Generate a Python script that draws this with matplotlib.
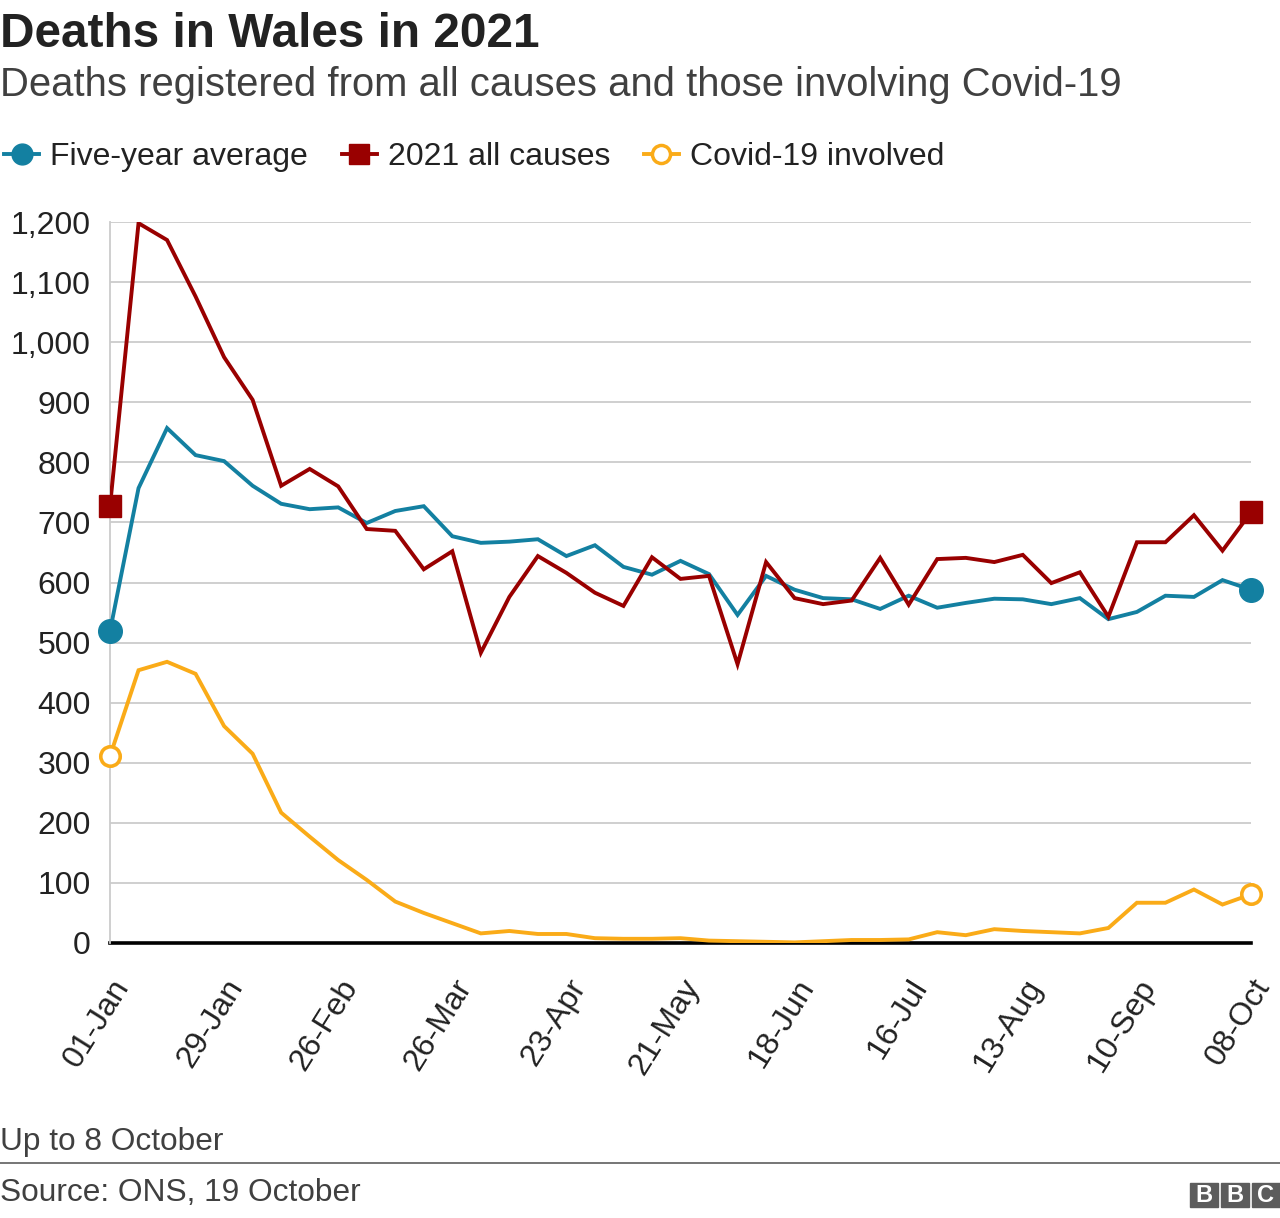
import matplotlib
matplotlib.use("Agg")
import matplotlib.pyplot as plt
import matplotlib.dates as mdates
from matplotlib.lines import Line2D
from matplotlib.patches import Rectangle
import matplotlib.ticker as mticker
import pandas as pd

plt.rcParams['font.family'] = ['Liberation Sans', 'DejaVu Sans']

# ---- data ----
week_start = "2021-01-01"
n_weeks = 41
dates = pd.date_range(week_start, periods=n_weeks, freq="7D")

five_year_avg = [519, 757, 857, 812, 802, 761, 731, 722, 725, 699, 719, 727, 677,
                 666, 668, 672, 644, 662, 626, 613, 636, 614, 546, 611, 588, 574,
                 572, 556, 578, 558, 566, 573, 572, 564, 574, 539, 551, 578, 576,
                 604, 588]
all_causes_2021 = [727, 1198, 1170, 1076, 975, 904, 761, 789, 760, 689, 686, 622,
                   652, 483, 576, 644, 616, 583, 561, 642, 606, 611, 464, 634, 574,
                   564, 570, 641, 563, 639, 641, 634, 646, 599, 617, 543, 667, 667,
                   712, 653, 717]
covid_involved = [311, 454, 468, 448, 361, 315, 217, 177, 138, 105, 69, 50, 33, 16,
                  20, 15, 15, 8, 7, 7, 8, 4, 3, 2, 1, 3, 5, 5, 6, 18, 13, 23, 20,
                  18, 16, 25, 67, 67, 89, 64, 81]

series_names = ["Five-year average", "2021 all causes", "Covid-19 involved"]
y_ticks = [0, 100, 200, 300, 400, 500, 600, 700, 800, 900, 1000, 1100, 1200]

title = "Deaths in Wales in 2021"
subtitle = "Deaths registered from all causes and those involving Covid-19"
note = "Up to 8 October"
source = "Source: ONS, 19 October"

TEAL = "#1380A1"
RED = "#990000"
YEL = "#FAAB18"
GRID = "#cbcbcb"
DARK = "#222222"
GREY = "#404040"

W, H = 1280, 1218
fig = plt.figure(figsize=(W / 100, H / 100), dpi=100)

def fx(px):
    return px / W

def fy(py):
    return 1 - py / H

ax = fig.add_axes([fx(110), fy(943), fx(1251) - fx(110), fy(222) - fy(943)])

lw = 2.8
ax.plot(dates, five_year_avg, color=TEAL, lw=lw, zorder=3, solid_joinstyle='miter')
ax.plot(dates, all_causes_2021, color=RED, lw=lw, zorder=4, solid_joinstyle='miter')
ax.plot(dates, covid_involved, color=YEL, lw=lw, zorder=3, solid_joinstyle='miter')

# end markers
ends = [dates[0], dates[-1]]
ax.plot(ends, [five_year_avg[0], five_year_avg[-1]], ls='none', marker='o',
        ms=17, color=TEAL, zorder=5, clip_on=False)
ax.plot(ends, [all_causes_2021[0], all_causes_2021[-1]], ls='none', marker='s',
        ms=16, color=RED, zorder=6, clip_on=False)
ax.plot(ends, [covid_involved[0], covid_involved[-1]], ls='none', marker='o',
        ms=14, mfc='white', mec=YEL, mew=2.6, color=YEL, zorder=5, clip_on=False)

ax.set_xlim(dates[0], dates[-1])
ax.set_ylim(0, 1200)
ax.set_yticks(y_ticks)
ax.yaxis.set_major_formatter(mticker.FuncFormatter(lambda v, p: f"{int(v):,}"))
ax.grid(axis='y', color=GRID, lw=1.3, zorder=0)
ax.set_axisbelow(True)

ax.set_xticks(dates[::4])
ax.xaxis.set_major_formatter(mdates.DateFormatter("%d-%b"))

for s in ['top', 'right']:
    ax.spines[s].set_visible(False)
ax.spines['left'].set_color(GRID)
ax.spines['left'].set_linewidth(1.3)
ax.spines['bottom'].set_color('black')
ax.spines['bottom'].set_linewidth(2.6)
ax.spines['bottom'].set_zorder(2)

ax.tick_params(axis='y', length=0, pad=14, labelsize=23, labelcolor=DARK)
ax.tick_params(axis='x', length=0, pad=22, labelsize=23, labelcolor=DARK)
for lab in ax.get_xticklabels():
    lab.set_rotation(58)
    lab.set_ha('right')
    lab.set_va('top')
    lab.set_rotation_mode('anchor')

# titles
fig.text(fx(0), fy(47), title, fontsize=34.4, fontweight='bold', color=DARK,
         ha='left', va='baseline')
fig.text(fx(0), fy(96), subtitle, fontsize=28.8, color=GREY, ha='left', va='baseline')

# legend
handles = [
    Line2D([], [], color=TEAL, lw=lw, marker='o', ms=15),
    Line2D([], [], color=RED, lw=lw, marker='s', ms=15),
    Line2D([], [], color=YEL, lw=lw, marker='o', ms=13, mfc='white', mec=YEL, mew=2.5),
]
fig.legend(handles, series_names, loc='center left', bbox_to_anchor=(fx(4), fy(157)),
           ncol=3, frameon=False, fontsize=23, handlelength=1.1, handletextpad=0.35,
           columnspacing=1.05, borderpad=0, borderaxespad=0, numpoints=1,
           labelcolor=DARK)

# footer
fig.text(fx(0), fy(1150), note, fontsize=22.8, color=GREY, ha='left', va='baseline')
fig.add_artist(Line2D([0, 1], [fy(1163), fy(1163)], color='#6a6a6a', lw=1.3,
                      transform=fig.transFigure))
fig.text(fx(0), fy(1201), source, fontsize=22.8, color=GREY, ha='left', va='baseline')

# BBC logo
for i, letter in enumerate("BBC"):
    x0 = 1190 + i * 31
    fig.add_artist(Rectangle((fx(x0), fy(1207)), fx(28), 24 / H, color='#5c5c5c',
                             transform=fig.transFigure))
    fig.text(fx(x0 + 14), fy(1195), letter, fontsize=17, fontweight='bold',
             color='white', ha='center', va='center')

fig.savefig("out.png", dpi=100, facecolor='white')
